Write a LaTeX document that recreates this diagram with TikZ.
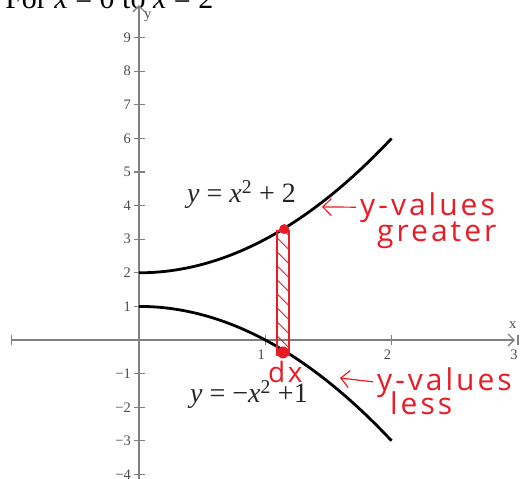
\documentclass[tikz,border=0pt]{standalone}
\usepackage{fontspec}
\setmainfont{Liberation Serif}
\newfontfamily\handfont[LetterSpace=10]{Open Sans}
\usetikzlibrary{arrows.meta}
\definecolor{inkred}{RGB}{232,28,36}
\definecolor{axisgray}{RGB}{128,128,128}

\begin{document}
\begin{tikzpicture}[
    x=126.3pt, y=33.6pt,
    axis/.style={draw=axisgray, line width=1.3pt},
    curve/.style={line width=2.8pt, black},
    ticklab/.style={font=\fontsize{14.5}{16}\selectfont, text=black!70, inner sep=1pt},
    eqlab/.style={font=\fontsize{28}{32}\selectfont, anchor=base west, inner sep=0pt, text=black!85},
    hand/.style={font=\handfont\fontsize{30}{34}\selectfont, text=inkred, anchor=base west, inner sep=0pt},
    inkarrow/.style={draw=inkred, line width=1.2pt, -{Straight Barb[length=3mm]}, shorten <=4pt}
]
\useasboundingbox (-1.1005,-4.107) rectangle (3.080,10.119);

% heading, cut off at the top
\node[anchor=base west, inner sep=0pt, font=\fontsize{30}{34}\selectfont] (head) at (-1.06,9.87)
  {For \textit{x} = 0 to \textit{x} = 2};

% axes
\coordinate (xleft) at (-1.013,0);
\coordinate (xright) at (2.977,0);
\coordinate (ybottom) at (0,-4.2);
\coordinate (ytop) at (0,9.97);
\draw[axis, {Bar[width=10pt]}-{Straight Barb[length=6pt]}] (xleft) -- (xright);
\draw[axis, -{Straight Barb[length=6pt]}] (ybottom) -- (ytop);
\node[ticklab, anchor=west] (ylab) at ([xshift=4pt]0,9.62) {y};
\node[ticklab] (xlab) at (2.96,0.45) {x};

\foreach \k/\t in {9/9, 8/8, 7/7, 6/6, 5/5, 4/4, 3/3, 2/2, 1/1, -1/−1, -2/−2, -3/−3, -4/−4} {
  \draw[axis] ([xshift=-5pt]0,\k) -- ([xshift=6pt]0,\k);
  \node[ticklab, anchor=east] (yt\t) at ([xshift=-7pt]0,\k) {\t};
}
\foreach \k in {1,2,3} {
  \draw[axis] ([yshift=-5pt]\k,0) -- ([yshift=5pt]\k,0);
  \node[ticklab, anchor=north] (xt\k) at ([xshift=-4pt,yshift=-9pt]\k,0) {\k};
}

% the two curves
\draw[curve] plot[domain=0:2, samples=60] (\x, {\x*\x+2});
\draw[curve] plot[domain=0:2, samples=60] (\x, {1-\x*\x});

\node[eqlab] (upper) at (0.38,4.08) {\textit{y} = \textit{x}\textsuperscript{2} + 2};
\node[eqlab] (lower) at (0.404,-1.85) {\textit{y} = −\textit{x}\textsuperscript{2} +1};

% strip of width dx
\coordinate (stripSW) at (1.095,-0.45);
\coordinate (stripNE) at (1.19,3.25);
\begin{scope}
  \clip (stripSW) rectangle (stripNE);
  \foreach \k in {0,...,10}
    \draw[inkred, line width=1pt] ([yshift=-\k*14pt]1.095,3.45) -- ++(16pt,-16pt);
\end{scope}
\draw[inkred, line width=1.8pt] (stripSW) rectangle (stripNE);
\fill[inkred] (1.15,3.3) circle (5pt);
\fill[inkred] (1.14,-0.37) circle (6pt);

% notes
\node[hand, font=\handfont\fontsize{28}{30}\selectfont] (dx) at (1.02,-1.25) {dx};
\node[hand] (upY) at (1.75,3.72) {y-values};
\node[hand] (upG) at (1.884,2.92) {greater};
\node[hand] (lowY) at (1.884,-1.49) {y-values};
\node[hand] (lowL) at (1.987,-2.23) {less};

\coordinate (upTip) at (1.449,3.96);
\coordinate (lowTip) at (1.591,-1.13);
\draw[inkarrow] (upY.west) -- (upTip);
\draw[inkarrow] (lowY.west) -- (lowTip);

\end{tikzpicture}
\end{document}
